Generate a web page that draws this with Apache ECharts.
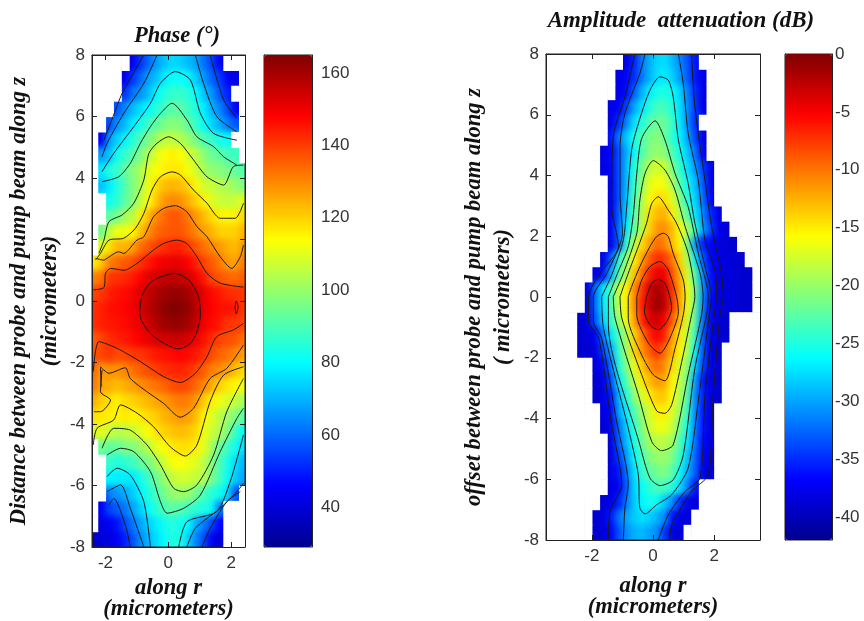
<!DOCTYPE html>
<html><head><meta charset="utf-8">
<style>html,body{margin:0;padding:0;background:#fff}#c{width:864px;height:621px}</style>
<script src="https://cdn.jsdelivr.net/npm/echarts@6/dist/echarts.min.js"></script>
</head><body><div id="c"></div>
<script>
const zRows=[7.75,7.25,6.75,6.25,5.75,5.25,4.75,4.25,3.75,3.25,2.75,2.25,1.75,1.25,0.75,0.25,-0.25,-0.75,-1.25,-1.75,-2.25,-2.75,-3.25,-3.75,-4.25,-4.75,-5.25,-5.75,-6.25,-6.75,-7.25,-7.75];
// each row: index of first filled column, then values
const phaseFirstR=-2.375, amplitudeFirstR=-3.375, cellR=0.25, cellZ=0.5, phaseCols=20, amplitudeCols=28;
const phaseRows=[
[5,44,53,60,67,72,75,74,71,68,61,55,44],
[4,44,53,60,68,72,78,81,81,80,73,67,59,54,44,42],
[4,52,62,66,71,80,84,87,87,85,80,72,66,57,50],
[3,57,65,71,76,80,85,89,92,92,88,84,78,70,64,56,44],
[2,56,66,71,78,83,89,93,96,98,97,93,87,80,75,69,63,57],
[1,44,68,74,79,85,91,96,102,105,106,104,100,96,90,87,83,80],
[1,67,72,82,87,91,97,104,110,114,116,114,109,105,99,94,93,89,88],
[1,77,84,87,93,98,103,110,114,116,117,117,113,108,102,99,98,96,93,91],
[1,72,78,84,91,97,103,112,119,123,124,123,120,115,108,107,104,103,100,97],
[2,82,86,92,98,106,114,122,128,130,129,125,120,116,110,107,106,107,110],
[2,92,96,102,105,116,124,130,134,137,136,132,128,123,119,116,115,116,119],
[1,95,106,112,112,115,123,129,134,136,137,137,134,130,127,124,120,120,120,124],
[1,110,118,124,124,127,134,137,140,142,144,144,141,137,133,130,128,125,123,128],
[0,116,122,131,134,136,138,142,145,148,150,151,151,148,144,139,136,132,128,126,132],
[0,131,133,141,142,143,145,148,152,154,156,157,156,154,150,145,139,137,135,134,136],
[0,139,141,144,146,147,149,153,156,159,161,162,162,160,156,151,147,145,143,142,141],
[0,142,144,146,147,148,150,153,157,160,163,165,164,162,158,151,148,146,146,145,141],
[0,142,144,145,146,147,149,151,155,158,161,162,162,160,156,149,147,145,141,141,139],
[0,136,139,142,144,145,147,149,151,153,154,155,155,153,150,146,142,139,138,137,133],
[0,137,139,141,138,139,141,141,143,145,146,147,148,147,145,142,138,135,133,130,127],
[0,135,127,129,129,130,133,136,138,140,142,143,144,142,139,136,131,129,127,122,119],
[0,132,126,125,123,125,127,129,131,133,135,138,139,138,134,130,125,120,117,115,112],
[0,125,120,118,116,119,120,122,124,126,128,130,132,131,128,121,116,112,109,106,102],
[0,118,117,116,115,117,115,117,119,121,124,126,128,127,123,115,110,105,101,97,92],
[0,110,110,107,104,105,107,110,114,118,120,122,123,122,119,112,107,104,97,88,80],
[1,95,93,93,97,97,101,105,111,114,117,118,118,116,111,102,94,88,82,76],
[2,87,84,86,88,93,96,102,108,113,114,112,110,105,98,90,83,76,70],
[2,79,78,78,77,83,88,95,100,106,108,108,106,104,96,89,81,73,68],
[2,64,66,69,73,79,84,90,96,100,101,100,95,90,85,82,76,57],
[1,45,55,58,62,68,74,80,86,90,92,91,88,86,84,81,62],
[1,42,44,48,56,62,68,74,78,82,85,82,80,69,63,55,46],
[0,38,40,42,44,50,57,65,70,76,80,84,83,74,64,56,44,40]
];
const amplitudeRows=[
[10,-38,-35.5,-32,-29.5,-28,-27.5,-29,-31,-33.5,-36],
[9,-38,-37,-35,-32,-29.5,-27.5,-27,-28,-30.5,-33,-36,-38],
[9,-38,-36.5,-33,-29.5,-27,-25.5,-25,-26,-28,-31.5,-35,-38],
[8,-38,-37,-34,-30,-27.5,-25,-23.5,-23.5,-25,-27.5,-31,-34.5,-38],
[8,-38,-35,-31.5,-27.5,-25,-23,-22,-22,-24,-27,-31,-35],
[8,-36,-32,-28.5,-25.5,-23,-21.5,-20.5,-22,-24.5,-26.5,-30,-34,-38],
[7,-38,-37,-33.5,-29.5,-26.5,-23,-21,-20,-20.5,-23,-25.5,-28.5,-32,-37],
[7,-38,-37,-33.5,-29,-25,-21.5,-18.5,-17.5,-18,-21,-24.5,-27.5,-30.5,-34,-38],
[8,-38,-33.5,-29,-24.5,-20.5,-17,-16,-16.5,-19,-23,-26,-29,-33,-38],
[8,-38,-33.5,-28.5,-23.5,-19.5,-16,-14.5,-14.5,-17,-21,-25,-28,-32,-37],
[8,-38,-33,-28,-23,-19,-14.5,-13,-12.5,-15,-19,-23,-27,-31,-35,-38],
[8,-37.5,-32.5,-27,-22.5,-18.5,-14,-11.5,-11,-13,-16,-19.5,-24,-30,-34,-37.5,-38.5],
[8,-38,-33,-24.5,-19,-14.5,-11.8,-9.5,-10.5,-13,-15.5,-21.5,-30.5,-35.5,-37,-38,-38.5,-39],
[7,-38,-33,-25,-20.5,-15.5,-12,-9,-7,-7.5,-10,-14,-19,-27,-33,-37,-38,-38.5,-38.5,-39],
[6,-38,-36,-29.5,-23,-18.5,-13.5,-10,-6.5,-4.5,-4.5,-8.5,-12.5,-17.5,-23,-31,-36.5,-38,-38.5,-38.5,-39,-39],
[5,-38,-32,-27,-23.5,-18,-15.5,-11,-7.5,-3.5,-1.5,-3,-7,-12,-16,-21.5,-30.5,-36,-38,-38.5,-38.5,-39,-39],
[5,-38,-32,-27,-23.5,-18,-15.5,-11,-6.5,-3.2,-1,-2.5,-7,-12,-16,-22,-31,-37,-38,-38.5,-38.5,-39,-39],
[4,-39,-38,-33,-28,-24.5,-20,-16,-12,-7,-4,-3,-5,-9,-13,-17.5,-22.5,-32,-37.5,-38.5,-39],
[4,-39,-38.5,-37,-31.5,-27,-23,-19,-14,-10.5,-6.8,-5,-6.5,-11.5,-15,-18.5,-24,-33,-38,-38.5,-39],
[4,-39,-39,-38.5,-34,-30,-24,-19.5,-14,-11.5,-9,-7,-9.5,-12.5,-15.5,-19,-26,-33.5,-38,-39],
[6,-38.5,-36.5,-32,-25,-21,-16.5,-13.5,-11,-9.5,-11,-14,-17.5,-20.5,-28,-34,-38,-39],
[6,-39,-38,-34,-27,-23,-18.5,-15,-13,-11.5,-12,-15.5,-18,-22,-30,-36,-38,-39],
[6,-39,-38,-36,-29,-25,-20.5,-17.5,-15,-13.5,-13.5,-16,-19,-23,-31,-35.5,-38.5,-39],
[7,-38,-37,-30,-27,-23,-20,-17.5,-15,-15,-17,-20,-24,-31,-36,-38],
[7,-38.5,-38,-32.5,-28,-24.5,-21,-18,-16.5,-16.5,-18,-21.5,-25.5,-31.5,-36,-38.5],
[8,-38.5,-33,-29,-25.5,-22,-19.5,-18.5,-18.5,-19.5,-23,-27,-32,-36.5,-38.5],
[8,-38.5,-34.5,-30.5,-26.5,-23.5,-21,-20,-20,-21,-24,-28.5,-32.5,-37,-38.5],
[8,-38,-36,-32,-27.5,-24.5,-22.5,-21.5,-21,-22.5,-26,-29.5,-33,-38,-39],
[8,-38.5,-37,-33,-28,-26,-24.5,-23.3,-23.5,-25,-27.5,-31.5,-36],
[7,-38.5,-38,-35.5,-32,-28.5,-26.5,-25.5,-26,-28.5,-31,-35,-38,-38.5],
[6,-39,-38,-36,-32,-30,-28.5,-27.5,-28,-29.5,-31,-36,-38,-38.5],
[6,-39,-38.5,-37,-33.5,-31,-29.5,-29,-30,-31,-34.5,-38,-38.5]
];
// contour lines, as [r, z]
const phaseContours=[
[[-.85,.15],[-.68,.47],[-.47,.68],[-.04,.85],[.17,.9],[.38,.85],[.7,.63],[.96,.14],[1.02,-.46],[.91,-1],[.7,-1.38],[.33,-1.56],[-.04,-1.43],[-.52,-1.11],[-.84,-.67],[-.91,-.35],[-.85,.15]],
[[2.12,-.2],[2.16,0],[2.22,-.2],[2.16,-.42],[2.12,-.2]],
[[-2.39,.36],[-2.05,.44],[-2,.9],[-1.84,1.06],[-1.42,1],[-1,1.22],[-.47,1.66],[-.15,1.87],[.27,1.98],[.59,1.87],[.91,1.44],[1.23,.9],[1.65,.58],[2.39,.45]],
[[-2.39,-2.3],[-2.21,-1.32],[-1.63,-1.54],[-.89,-1.97],[-.15,-2.46],[.38,-2.65],[.86,-2.35],[1.23,-1.81],[1.54,-1.16],[2.07,-.94],[2.39,-.73]],
[[-2.32,1.39],[-2.05,1.33],[-1.95,1.39],[-1.58,1.6],[-1.42,1.55],[-1,1.98],[-.78,2.09],[-.47,2.74],[-.15,3.01],[.22,3.1],[.59,2.9],[.91,2.42],[1.23,2.09],[1.65,1.44],[2.02,1.06],[2.29,1.44],[2.39,1.82]],
[[-2.14,-2.79],[-2.16,-2.14],[-1.89,-2.35],[-1.37,-2.17],[-1.21,-2.52],[-.68,-2.95],[-.15,-3.33],[.38,-3.78],[.8,-3.49],[1.33,-2.52],[1.86,-2.19],[2.39,-1.43]],
[[-2.32,1.33],[-2.16,1.55],[-1.89,1.98],[-1.42,2.04],[-1.05,2.36],[-.78,2.85],[-.52,3.61],[-.25,4.04],[.12,4.2],[.38,4.1],[.8,3.61],[1.23,3.18],[1.65,2.69],[2.13,2.69],[2.39,3.18]],
[[-2.39,-4.68],[-2.27,-4.14],[-1.74,-3.87],[-1.52,-3.38],[-.99,-3.65],[-.47,-4.09],[.06,-4.74],[.54,-5.04],[.91,-4.68],[1.33,-3.27],[1.76,-2.41],[2.39,-2.14]],
[[-2.37,-3.6],[-2.16,-3.6],[-1.84,-3.22],[-2.16,-2.95],[-2.11,-2.24]],
[[-2.21,1.55],[-2.05,1.98],[-1.89,2.58],[-1.47,2.8],[-1.1,3.18],[-.78,3.94],[-.62,4.8],[-.36,5.13],[.01,5.34],[.38,5.13],[.8,4.59],[1.23,4.04],[1.76,3.77],[2.07,4.37],[2.39,4.42]],
[[-2.11,-4.79],[-1.74,-4.14],[-1.21,-4.2],[-.68,-4.68],[-.25,-5.33],[.17,-6.09],[.49,-6.2],[.91,-5.98],[1.44,-5.01],[1.86,-3.6],[2.39,-2.52]],
[[-2.11,3.88],[-1.58,4.04],[-1.21,4.48],[-.89,5.13],[-.57,5.67],[-.25,6.1],[.12,6.43],[.59,5.89],[.91,5.34],[1.44,5.02],[1.76,4.69],[2.18,4.42]],
[[-1.95,-5.01],[-1.52,-4.79],[-1.1,-4.9],[-.57,-5.55],[-.25,-6.53],[-.04,-6.9],[.49,-6.74],[1.02,-6.31],[1.65,-4.9],[2.18,-3.82],[2.39,-3.49]],
[[-2.11,4.21],[-1.74,4.8],[-1.1,5.67],[-.57,6.43],[-.25,7.08],[.22,7.46],[.7,7.19],[1.02,6.1],[1.44,5.45],[2.18,5.23]],
[[-1.95,-5.71],[-1.63,-5.44],[-1.21,-5.66],[-.78,-6.53],[-.57,-8]],
[[.33,-8],[.59,-7.18],[1.54,-6.85],[1.97,-5.87],[2.39,-4.36]],
[[-2.11,4.69],[-1.95,5.13],[-1.42,6.1],[-.78,7.08],[-.36,8]],
[[.86,8],[1.12,7.08],[1.54,6],[2.18,5.5]],
[[-1.95,-6.2],[-1.52,-5.98],[-1.21,-6.74],[-.78,-8]],
[[.59,-8],[.86,-7.39],[1.65,-6.74],[2.18,-6.2],[2.39,-5.93]],
[[-2.05,5.23],[-1.74,6.05],[-1.47,6.75],[-.78,8]],
[[1.33,8],[1.76,6.54],[2.18,5.94]],
[[-1.89,-6.63],[-1.74,-6.42],[-1.37,-7.28],[-1.21,-8]],
[[1.07,-8],[1.33,-7.39],[1.86,-6.53],[2.29,-6.2]]
];
const amplitudeContours=[
[[-.21,.01],[-.04,.45],[.17,.58],[.39,.45],[.55,.01],[.61,-.37],[.45,-.81],[.17,-1.08],[-.1,-.92],[-.28,-.48],[-.21,.01]],
[[-.53,.01],[-.37,.56],[-.1,1],[.23,1.17],[.5,.89],[.77,.01],[.83,-.48],[.55,-1.36],[.23,-1.85],[-.15,-1.52],[-.53,-.59],[-.53,.01]],
[[-.81,.01],[-.7,.34],[-.43,1],[-.1,1.66],[.12,1.99],[.34,2.1],[.5,1.99],[.66,1.44],[.99,.56],[1.05,.01],[.99,-.59],[.72,-1.69],[.39,-2.76],[.01,-2.56],[-.37,-1.91],[-.81,-.7],[-.81,.01]],
[[-1.08,.01],[-.81,.78],[-.48,1.66],[-.21,2.43],[-.04,3.08],[.17,3.3],[.5,2.86],[.77,2.43],[1.15,1.44],[1.37,.01],[1.26,-.59],[.94,-2.13],[.61,-3.55],[.39,-3.83],[.12,-3.75],[-.37,-2.56],[-1.02,-.7],[-1.08,.01]],
[[-1.3,.01],[-.97,.78],[-.53,2.1],[-.43,3.19],[-.26,4.07],[.01,4.49],[.39,4.18],[.72,3.52],[1.05,2.32],[1.54,.78],[1.64,.01],[1.59,-.59],[1.15,-2.56],[.66,-4.87],[.28,-5.06],[-.04,-4.76],[-.48,-3.22],[-1.24,-.7],[-1.3,.01]],
[[-1.46,.01],[-1.16,.78],[-.81,1.66],[-.64,2.75],[-.53,4.07],[-.37,5.22],[.07,5.8],[.39,5.17],[.72,4.07],[1.15,2.97],[1.48,1.44],[1.81,.01],[1.75,-.59],[1.37,-2.35],[.99,-5.2],[.66,-6.02],[.23,-6.21],[-.1,-5.96],[-.43,-4.87],[-1.46,-.92],[-1.46,.01]],
[[-1.68,.01],[-1.33,.78],[-.97,1.88],[-.86,2.97],[-.7,4.84],[-.48,5.71],[-.1,6.81],[.23,7.25],[.5,7.14],[.66,6.59],[.83,5.17],[1.15,3.74],[1.37,2.43],[1.7,1],[1.92,.01],[1.84,-.59],[1.48,-3.44],[1.15,-5.63],[.61,-6.51],[.12,-6.84],[-.26,-7.14],[-.43,-6.95],[-.48,-5.85],[-.81,-4.32],[-1.62,-1.03],[-1.68,.01]],
[[-.26,8],[-.43,7.36],[-.92,6.04],[-1.08,4.95],[-1.08,3.41],[-1,2.1],[-1.51,.78],[-1.95,.01],[-1.95,-.81],[-1.68,-1.36],[-1.19,-4.1],[-.81,-6.18],[-.92,-6.95],[-.97,-8]],
[[.83,8],[.99,7.03],[1.15,5.39],[1.48,3.85],[1.7,1.88],[2.05,.78],[2.08,.01],[2,-.59],[1.7,-3.22],[1.54,-5.96],[1.05,-6.4],[.5,-7.17],[.17,-8]],
[[-.59,8],[-.92,6.59],[-1.3,5.28],[-1.35,2.97],[-1.13,1.66],[-1.73,.78],[-2.11,.01],[-2.11,-.81],[-1.77,-1.36],[-1.37,-4.1],[-1.02,-6.18],[-1.41,-7.06],[-1.46,-8]],
[[1.26,8],[1.37,6.26],[1.7,3.85],[1.92,2.32],[2.24,.78],[2.3,.01],[2.19,-.59],[1.97,-3.22],[1.81,-5.85],[1.26,-6.4],[.61,-7.5],[.55,-8]]
];
const rTicks=[-2,0,2], zTicks=[-8,-6,-4,-2,0,2,4,6,8];
const phaseBarTicks=[40,60,80,100,120,140,160];
const amplitudeBarTicks=[-40,-35,-30,-25,-20,-15,-10,-5,0];
const jet=['#00008f','#0000ff','#0080ff','#00ffff','#80ff80','#ffff00','#ff8000','#ff0000','#800000'];
const SERIF='"Liberation Serif","Times New Roman",serif', SANS='"Liberation Sans",Arial,sans-serif';

function cells(rows,firstR){const d=[];rows.forEach((row,i)=>{for(let k=1;k<row.length;k++)d.push([firstR+(row[0]+k-1)*cellR,zRows[i],row[k],i,row[0]+k-1]);});return d;}
function holes(rows,firstR,n){const d=[];rows.forEach((row,i)=>{for(let c=0;c<n;c++){if(c<row[0]||c>=row[0]+row.length-1)d.push([firstR+c*cellR,zRows[i]]);}});return d;}
function cellItem(rows,n){
  const has=(i,c)=>i>=0&&i<rows.length&&c>=rows[i][0]&&c<rows[i][0]+rows[i].length-1;
  const E=8;
  return function(params,api){
    const i=api.value(3),k=api.value(4),c=api.coord([api.value(0),api.value(1)]),s=api.size([cellR,cellZ]);
    let x=c[0]-s[0]/2,y=c[1]-s[1]/2,w=s[0]+0.6,h=s[1]+0.6;
    if(!has(i-1,k)){y-=E;h+=E;}
    if(!has(i+1,k)){h+=E;}
    if(!has(i,k-1)){x-=E;w+=E;}
    if(!has(i,k+1)){w+=E;}
    return {type:'rect',shape:{x,y,width:w,height:h},style:{fill:api.visual('color')}};
  };
}
function holeItem(params,api){
  const c=api.coord([api.value(0),api.value(1)]),s=api.size([cellR,cellZ]);
  return {type:'rect',shape:{x:c[0]-s[0]/2,y:c[1]-s[1]/2,width:s[0]+0.6,height:s[1]+0.6},style:{fill:'#fff'}};
}
const tickStyle={show:true,inside:true,length:5,lineStyle:{color:'#222',width:1}};
const lineStyle={show:true,onZero:false,lineStyle:{color:'#222',width:1}};
const labelFont={fontFamily:SANS,fontSize:17,color:'#333'};
const nameFont={fontFamily:SERIF,fontStyle:'italic',fontWeight:'bold',fontSize:22.6,color:'#111'};
function xAx(g,min,max,label,name,gap){return {type:'value',gridIndex:g,min,max,zlevel:1,z:3,position:label?'bottom':'top',splitLine:{show:false},axisLine:lineStyle,
  axisTick:{...tickStyle,customValues:rTicks},axisLabel:label?{...labelFont,margin:8,customValues:rTicks,formatter:v=>String(v)}:{show:false},
  name:name||'',nameLocation:'middle',nameGap:gap||0,nameTextStyle:{...nameFont,lineHeight:21}};}
function yAx(g,min,max,pos,ticks,label,name,gap,lh,margin){return {type:'value',gridIndex:g,min,max,zlevel:1,z:3,position:pos,splitLine:{show:false},axisLine:lineStyle,
  axisTick:{...tickStyle,customValues:ticks},axisLabel:label?{...labelFont,margin:margin||7,customValues:ticks,formatter:v=>String(v)}:{show:false},
  name:name||'',nameLocation:'middle',nameGap:gap||0,nameRotate:90,nameTextStyle:{...nameFont,lineHeight:lh||30}};}
const hiddenX=g=>({type:'value',gridIndex:g,min:0,max:1,show:false,zlevel:1});
const contourSeries=(list,xi,yi)=>list.map(d=>({type:'line',xAxisIndex:xi,yAxisIndex:yi,data:d,zlevel:1,z:2,showSymbol:false,symbol:'none',silent:true,smooth:0.25,lineStyle:{color:'#1a1a1a',width:1},clip:true}));
const border={show:true,borderColor:'#222',borderWidth:1,backgroundColor:'transparent',zlevel:1,outerBoundsMode:'none'};

const el=document.getElementById('c');
const chart=echarts.init(el,null,{renderer:'canvas'});
chart.setOption({
  animation:false,backgroundColor:'transparent',
  title:[
    {text:'Phase (°)',left:172,top:20,textAlign:'center',zlevel:1,textStyle:{...nameFont}},
    {text:'Amplitude  attenuation (dB)',left:676,top:5,textAlign:'center',zlevel:1,textStyle:{...nameFont,fontSize:23}}
  ],
  grid:[
    {left:92,top:55,width:153,height:492,...border},
    {left:264,top:55,width:48,height:492,...border},
    {left:546,top:54,width:214,height:486,...border},
    {left:785,top:54,width:47,height:486,...border}
  ],
  xAxis:[
    xAx(0,-2.43,2.44,true,'along r\n(micrometers)',29),xAx(0,-2.43,2.44,false),hiddenX(1),
    xAx(2,-3.5,3.5,true,'along r\n(micrometers)',36),xAx(2,-3.5,3.5,false),hiddenX(3)
  ],
  yAxis:[
    yAx(0,-8,8,'left',zTicks,true,'Distance between probe and pump beam along z\n(micrometers)',22,31),yAx(0,-8,8,'right',zTicks,false),
    yAx(1,29,165,'right',phaseBarTicks,true,'',0,0,9),yAx(1,29,165,'left',phaseBarTicks,false),
    yAx(2,-8,8,'left',zTicks,true,'offset between probe and pump beam along z\n( micrometers)',28,29),yAx(2,-8,8,'right',zTicks,false),
    yAx(3,-42,0,'right',amplitudeBarTicks,true,'',0,0,3),yAx(3,-42,0,'left',amplitudeBarTicks,false)
  ],
  visualMap:[
    {type:'continuous',seriesIndex:0,dimension:2,min:29,max:165,left:264,top:55,itemWidth:48,itemHeight:492,padding:0,calculable:false,hoverLink:false,zlevel:1,inRange:{color:jet},text:null},
    {type:'continuous',seriesIndex:1,dimension:2,min:-42,max:0,left:785,top:54,itemWidth:47,itemHeight:486,padding:0,calculable:false,hoverLink:false,zlevel:1,inRange:{color:jet},text:null}
  ],
  series:[
    {type:'custom',xAxisIndex:0,yAxisIndex:0,zlevel:0,clip:false,silent:true,renderItem:cellItem(phaseRows,phaseCols),encode:{x:0,y:1},data:cells(phaseRows,phaseFirstR)},
    {type:'custom',xAxisIndex:3,yAxisIndex:4,zlevel:0,clip:false,silent:true,renderItem:cellItem(amplitudeRows,amplitudeCols),encode:{x:0,y:1},data:cells(amplitudeRows,amplitudeFirstR)},
    {type:'custom',xAxisIndex:0,yAxisIndex:0,zlevel:1,z:1,clip:true,silent:true,renderItem:holeItem,encode:{x:0,y:1},data:holes(phaseRows,phaseFirstR,phaseCols)},
    {type:'custom',xAxisIndex:3,yAxisIndex:4,zlevel:1,z:1,clip:true,silent:true,renderItem:holeItem,encode:{x:0,y:1},data:holes(amplitudeRows,amplitudeFirstR,amplitudeCols)},
    ...contourSeries(phaseContours,0,0),
    ...contourSeries(amplitudeContours,3,4)
  ]
});
chart.on('finished',soften);
function soften(){
  const c=el.querySelectorAll('canvas')[0];
  if(c){c.style.filter='blur(3px)';c.style.clipPath="path('M92 55H245V547H92Z M546 54H760V540H546Z')";}
}
soften();
</script></body></html>
